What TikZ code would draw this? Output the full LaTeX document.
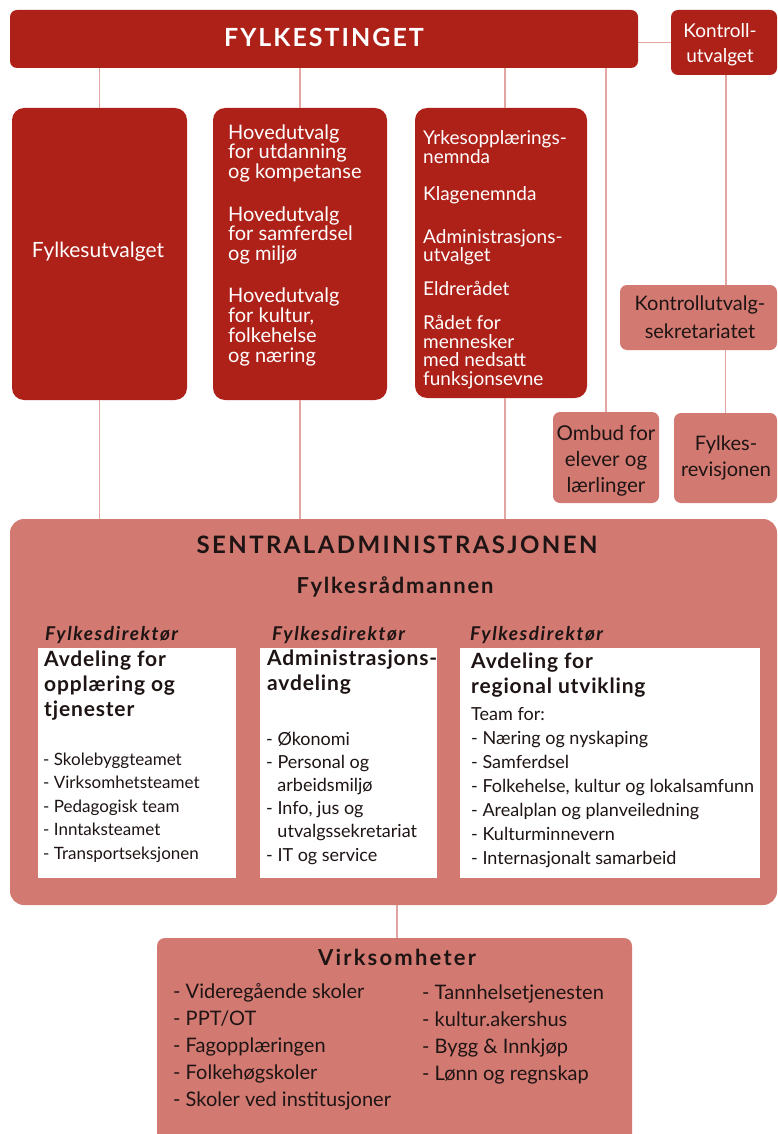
\documentclass[tikz,border=0pt]{standalone}
\usepackage{fontspec}
\setmainfont{Lato}
\definecolor{dred}{HTML}{AE2119}
\definecolor{lred}{HTML}{D27A72}
\definecolor{connc}{HTML}{E3A5A1}
\definecolor{ink}{HTML}{1E1414}
\newcommand{\fs}[2]{\fontsize{#1}{#2}\selectfont}
\tikzset{
  box/.style={inner sep=0pt, rounded corners=7pt},
  darkbox/.style={box, fill=dred},
  lightbox/.style={box, fill=lred},
  whitebox/.style={inner sep=0pt, fill=white},
  conn/.style={draw=connc, line width=1.3pt},
  txt/.style={inner sep=0pt, anchor=base west, align=left},
  wt/.style={txt, text=white},
  wtc/.style={inner sep=0pt, anchor=base, align=center, text=white},
  dtc/.style={inner sep=0pt, anchor=base, align=center, text=ink},
  dt/.style={txt, text=ink},
}
\begin{document}
\begin{tikzpicture}[x=1pt,y=-1pt]
\useasboundingbox[fill=white] (0,0) rectangle (777,1134);
% (for multi-line texts, the y given is the baseline of the last line)

% top level
\node[darkbox, minimum width=628pt, minimum height=58pt] (fylk) at (324,39) {};
\node[wtc, font=\fs{25}{28}\bfseries\addfontfeature{LetterSpace=8}] (fylkt) at (324,47) {FYLKESTINGET};
\node[darkbox, minimum width=106pt, minimum height=65pt] (kon) at (724,42.5) {};
\node[wtc, font=\fs{19}{25}] (kont) at (720,63) {Kontroll-\\utvalget};

% committees
\node[darkbox, rounded corners=12pt, minimum width=175pt, minimum height=292pt] (fu) at (99.5,254) {};
\node[wtc, font=\fs{21}{20}] (fut) at (98,257) {Fylkesutvalget};
\node[darkbox, rounded corners=12pt, minimum width=174pt, minimum height=292pt] (hu) at (300,254) {};
\node[wt, font=\fs{20}{19.7}] (hut) at (228,362) {Hovedutvalg\\for utdanning\\og kompetanse\\[22.8pt]Hovedutvalg\\for samferdsel\\og miljø\\[22.8pt]Hovedutvalg\\for kultur,\\folkehelse\\og næring};
\node[darkbox, rounded corners=12pt, minimum width=172pt, minimum height=290pt] (nm) at (501,253) {};
\node[wt, font=\fs{19}{18.5}] (nmt) at (423,385) {Yrkesopplærings-\\nemnda\\[18.5pt]Klagenemnda\\[24.5pt]Administrasjons-\\utvalget\\[15pt]Eldrerådet\\[16pt]Rådet for\\mennesker\\med nedsatt\\funksjonsevne};

% control side
\node[lightbox, minimum width=157pt, minimum height=65pt] (sek) at (698.5,317.5) {};
\node[dtc, font=\fs{20}{27.5}] (sekt) at (700,338) {Kontrollutvalg-\\sekretariatet};
\node[lightbox, minimum width=106pt, minimum height=91pt] (omb) at (606,457.5) {};
\node[dtc, font=\fs{20.5}{26}] (ombt) at (606,492) {Ombud for\\elever og\\lærlinger};
\node[lightbox, minimum width=103pt, minimum height=90pt] (rev) at (725.5,458) {};
\node[dtc, font=\fs{20}{26}] (revt) at (726,476) {Fylkes-\\revisjonen};

% central administration
\node[lightbox, rounded corners=14pt, minimum width=767pt, minimum height=386pt] (sa) at (393.5,712) {};
\node[dtc, font=\fs{24}{26}\bfseries\addfontfeature{LetterSpace=10}] (sat) at (397,553) {SENTRALADMINISTRASJONEN};
\node[dtc, font=\fs{22}{24}\bfseries\addfontfeature{LetterSpace=8}] (frm) at (395,593) {Fylkesrådmannen};
\tikzset{dirf/.style={dt, font=\fs{19}{20}\bfseries\itshape\addfontfeature{LetterSpace=8}}}
\node[dirf] (d1) at (45,640) {Fylkesdirektør};
\node[dirf] (d2) at (272,640) {Fylkesdirektør};
\node[dirf] (d3) at (470,640) {Fylkesdirektør};

\node[whitebox, minimum width=198pt, minimum height=230pt] (w1) at (137,763) {};
\node[whitebox, minimum width=177pt, minimum height=230pt] (w2) at (348.5,763) {};
\node[whitebox, minimum width=300pt, minimum height=230pt] (w3) at (610,763) {};

\tikzset{deptf/.style={dt, font=\fs{21}{25}\bfseries\addfontfeature{LetterSpace=4}}}
\node[deptf] (w1h) at (44,716) {Avdeling for\\opplæring og\\tjenester};
\node[dt, font=\fs{17}{23.5}] (w1l) at (43,859) {- Skolebyggteamet\\- Virksomhetsteamet\\- Pedagogisk team\\- Inntaksteamet\\- Transportseksjonen};

\node[deptf] (w2h) at (267,690) {Administrasjons-\\avdeling};
\node[dt, font=\fs{18}{23.2}] (w2l) at (266,861) {- Økonomi\\- Personal og\\\phantom{- }arbeidsmiljø\\- Info, jus og\\\phantom{- }utvalgssekretariat\\- IT og service};

\node[deptf] (w3h) at (471,693) {Avdeling for\\regional utvikling};
\node[dt, font=\fs{18}{24}] (w3l) at (471,864) {Team for:\\- Næring og nyskaping\\- Samferdsel\\- Folkehelse, kultur og lokalsamfunn\\- Arealplan og planveiledning\\- Kulturminnevern\\- Internasjonalt samarbeid};

% virksomheter
\node[lightbox, rounded corners=8pt, minimum width=475pt, minimum height=210pt] (vk) at (394.5,1043) {};
\node[dtc, font=\fs{22}{24}\bfseries\addfontfeature{LetterSpace=10}] (vkt) at (397,965) {Virksomheter};
\node[dt, font=\fs{20}{27}] (vk1) at (173,1106) {- Videregående skoler\\- PPT/OT\\- Fagopplæringen\\- Folkehøgskoler\\- Skoler ved institusjoner};
\node[dt, font=\fs{20}{27}] (vk2) at (422,1080) {- Tannhelsetjenesten\\- kultur.akershus\\- Bygg \& Innkjøp\\- Lønn og regnskap};

% connectors
\draw[conn] (fylk.east |- kon.west) -- (kon.west);
\draw[conn] (fylk.south -| fu.north) -- (fu.north);
\draw[conn] (fylk.south -| hu.north) -- (hu.north);
\draw[conn] ([xshift=4pt]fylk.south -| nm.north) -- ([xshift=4pt]nm.north);
\draw[conn] (fylk.south -| omb.north) -- (omb.north);
\draw[conn] ([xshift=2pt]kon.south) -- ([xshift=2pt]kon.south |- sek.north);
\draw[conn] (rev.north |- sek.south) -- (rev.north);
\draw[conn] (fu.south) -- (fu.south |- sa.north);
\draw[conn] (hu.south) -- (hu.south |- sa.north);
\draw[conn] ([xshift=4pt]nm.south) -- ([xshift=4pt]nm.south |- sa.north);
\draw[conn] ([xshift=2.5pt]sa.south -| vk.north) -- ([xshift=2.5pt]vk.north);
\end{tikzpicture}
\end{document}
